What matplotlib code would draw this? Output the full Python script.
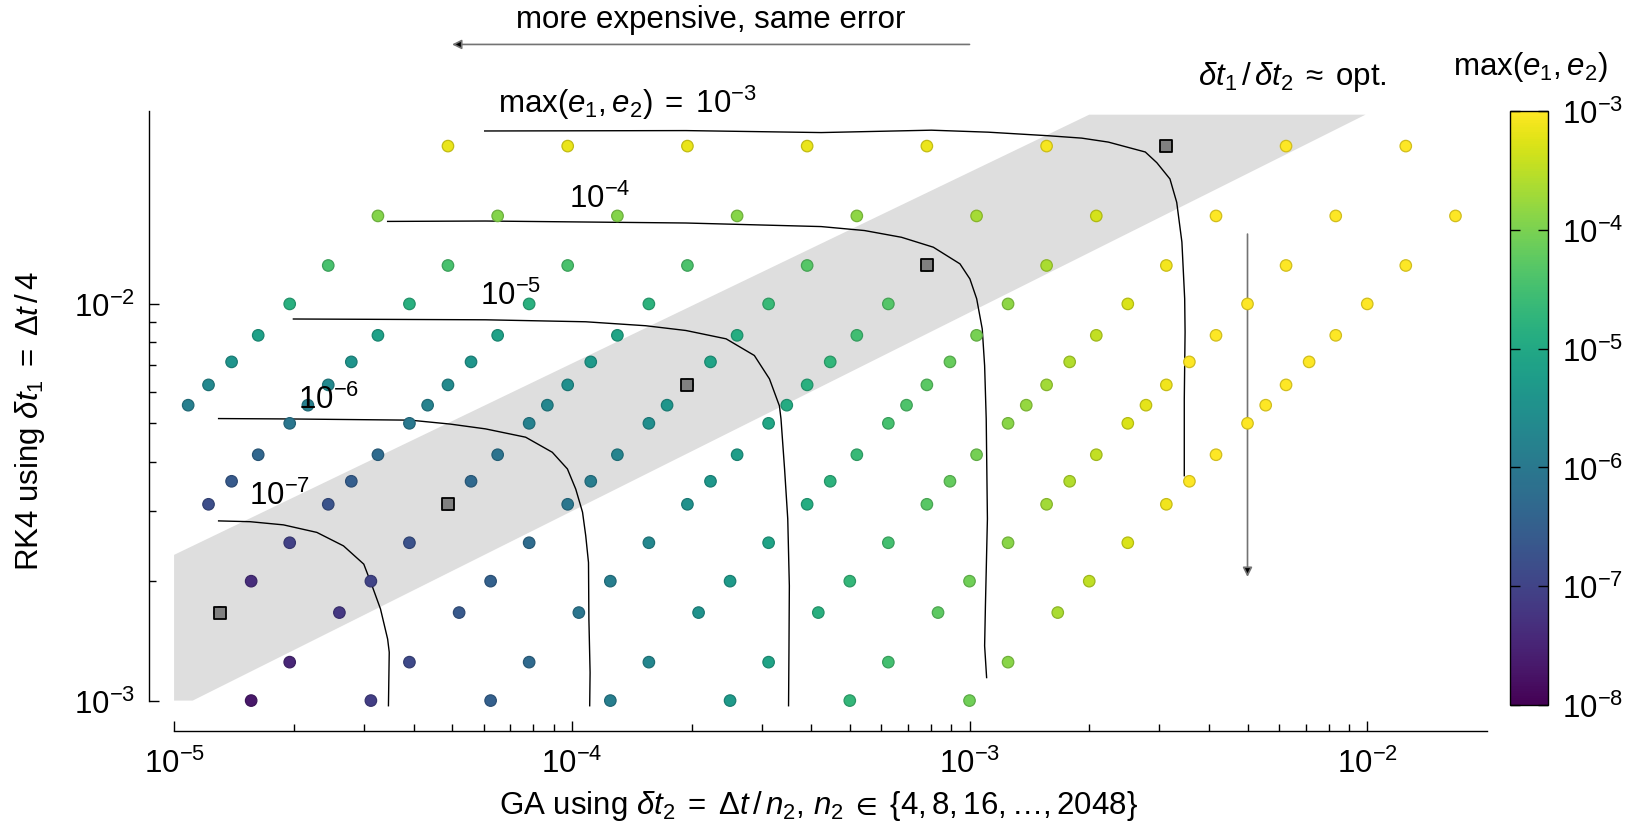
import numpy as np
import matplotlib
matplotlib.use("Agg")
import matplotlib.pyplot as plt
import matplotlib.ticker as mticker
from matplotlib.colors import LogNorm
from matplotlib.cm import ScalarMappable

plt.rcParams['font.family'] = 'Liberation Sans'
plt.rcParams['mathtext.fontset'] = 'custom'
plt.rcParams['mathtext.rm'] = 'Liberation Sans'
plt.rcParams['mathtext.it'] = 'Liberation Sans:italic'
plt.rcParams['mathtext.bf'] = 'Liberation Sans:bold'
plt.rcParams['mathtext.fallback'] = 'stixsans'
plt.rcParams['font.size'] = 22.5

# coarse step Delta t of each row, and GA substeps n2
dt = [0.1, 0.066667, 0.05, 0.04, 0.033333, 0.028571, 0.025, 0.022222, 0.02,
      0.016667, 0.014286, 0.0125, 0.01, 0.008, 0.006667, 0.005, 0.004]
n2 = [4, 8, 16, 32, 64, 128, 256, 512, 1024, 2048]

# log10 max(e1, e2) per row (dt) and column (n2), None = not shown
log_err = [
    [None, -1.87, -2.41, -2.83, -3.06, -3.14, -3.16, -3.17, -3.17, -3.17],
    [-1.64, -2.24, -2.81, -3.32, -3.67, -3.85, -3.90, -3.92, -3.92, -3.92],
    [-1.89, -2.49, -3.08, -3.63, -4.06, -4.32, -4.42, -4.44, -4.45, -4.45],
    [-2.09, -2.69, -3.28, -3.85, -4.33, -4.63, -4.79, -4.83, -4.84, -4.84],
    [-2.24, -2.85, -3.45, -4.02, -4.53, -4.90, -5.08, -5.14, -5.15, -5.16],
    [-2.38, -2.98, -3.58, -4.16, -4.70, -5.10, -5.32, -5.40, -5.42, -5.42],
    [-2.49, -3.10, -3.70, -4.28, -4.83, -5.26, -5.53, -5.62, -5.65, -5.66],
    [-2.60, -3.20, -3.80, -4.39, -4.95, -5.40, -5.70, -5.81, -5.85, -5.86],
    [-2.69, -3.29, -3.89, -4.48, -5.05, -5.54, -5.83, -5.99, -6.03, None],
    [-2.85, -3.45, -4.05, -4.64, -5.22, -5.74, -6.10, -6.28, -6.34, None],
    [-2.98, -3.58, -4.18, -4.78, -5.36, -5.90, -6.31, -6.52, -6.60, None],
    [-3.10, -3.70, -4.30, -4.90, -5.49, -6.04, -6.47, -6.73, -6.82, None],
    [-3.29, -3.89, -4.49, -5.10, -5.69, -6.25, -6.74, -7.04, None, None],
    [-3.48, -4.09, -4.69, -5.29, -5.89, -6.46, -6.99, -7.36, None, None],
    [-3.64, -4.24, -4.85, -5.45, -6.05, -6.63, -7.18, -7.60, None, None],
    [-3.89, -4.49, -5.10, -5.70, -6.30, -6.89, -7.46, None, None, None],
    [-4.09, -4.69, -5.29, -5.89, -6.49, -7.09, -7.67, None, None, None],
]

# "optimal" combinations (grey squares)
opt_dt = [0.1, 0.05, 0.025, 0.0125, 0.006667]
opt_n2 = [32, 64, 128, 256, 512]

# iso-error lines, log10(dt2), log10(dt1)
c3_lx = [-4.219, -3.713, -3.373, -3.096, -2.953, -2.802, -2.718, -2.651, -2.558,
         -2.529, -2.496, -2.479, -2.466, -2.459, -2.458, -2.460, -2.460]
c3_ly = [-1.564, -1.563, -1.568, -1.562, -1.567, -1.576, -1.582, -1.592, -1.617,
         -1.644, -1.685, -1.744, -1.844, -1.987, -2.071, -2.240, -2.433]
c4_lx = [-4.463, -4.217, -3.713, -3.373, -3.264, -3.171, -3.091, -3.024, -2.999,
         -2.982, -2.968, -2.962, -2.958, -2.955, -2.960, -2.962, -2.957]
c4_ly = [-1.792, -1.791, -1.796, -1.805, -1.815, -1.832, -1.857, -1.899, -1.937,
         -1.987, -2.063, -2.156, -2.290, -2.542, -2.761, -2.862, -2.942]
c5_lx = [-4.700, -4.217, -3.965, -3.814, -3.713, -3.612, -3.541, -3.503, -3.478,
         -3.474, -3.465, -3.457, -3.453, -3.454, -3.455]
c5_ly = [-2.038, -2.040, -2.045, -2.055, -2.067, -2.088, -2.130, -2.189, -2.257,
         -2.290, -2.416, -2.542, -2.711, -2.878, -3.013]
c6_lx = [-4.888, -4.708, -4.406, -4.305, -4.217, -4.116, -4.049, -4.011, -3.990,
         -3.973, -3.965, -3.958, -3.957, -3.954, -3.955]
c6_ly = [-2.289, -2.290, -2.293, -2.303, -2.315, -2.336, -2.374, -2.416, -2.467,
         -2.525, -2.584, -2.652, -2.795, -2.929, -3.013]
c7_lx = [-4.888, -4.809, -4.725, -4.641, -4.574, -4.523, -4.502, -4.481, -4.463,
         -4.459, -4.461]
c7_ly = [-2.547, -2.549, -2.557, -2.576, -2.610, -2.656, -2.711, -2.769, -2.845,
         -2.878, -3.013]
contours = [(c3_lx, c3_ly), (c4_lx, c4_ly), (c5_lx, c5_ly), (c6_lx, c6_ly), (c7_lx, c7_ly)]

# contour labels (x, y, text)
lab_x = [1.38e-4, 1.175e-4, 7.0e-5, 2.45e-5, 1.84e-5]
lab_y = [0.0323, 0.0185, 0.01054, 5.75e-3, 3.30e-3]
lab_txt = [r'$\max(e_1, e_2)\;=\;10^{-3}$', r'$10^{-4}$', r'$10^{-5}$', r'$10^{-6}$', r'$10^{-7}$']

# shaded band of near optimal ratio
band_x = [1e-5, 2.0e-3, 9.9e-3, 1.114e-5, 1e-5]
band_y = [2.33e-3, 0.030, 0.030, 1e-3, 1e-3]

fig = plt.figure(figsize=(16.36, 8.28), dpi=100)
ax = fig.add_axes([0.1064, 0.1159, 0.8025, 0.7492])
ax.set_xscale('log')
ax.set_yscale('log')
ax.set_xlim(1e-5, 0.02)
ax.set_ylim(8.38e-4, 0.0307)

norm = LogNorm(1e-8, 1e-3)
cmap = plt.get_cmap('viridis')

ax.fill(band_x, band_y, color='#dedede', lw=0, zorder=0.5)

for lx, ly in contours:
    ax.plot(10 ** np.array(lx), 10 ** np.array(ly), color='k', lw=1.0, zorder=2)

px, py, pc = [], [], []
for i, d in enumerate(dt):
    for j, n in enumerate(n2):
        if log_err[i][j] is None:
            continue
        px.append(d / n)
        py.append(d / 4)
        pc.append(10 ** log_err[i][j])
face = cmap(norm(np.array(pc)))
edge = face.copy()
edge[:, :3] *= 0.82
ax.scatter(px, py, s=68, c=face, edgecolors=edge, linewidths=0.9, zorder=3)

ox = [d / n for d, n in zip(opt_dt, opt_n2)]
oy = [d / 4 for d in opt_dt]
ax.scatter(ox, oy, s=70, marker='s', color='#808080', edgecolors='k', linewidths=1.3, zorder=4)

for x, y, t in zip(lab_x, lab_y, lab_txt):
    ax.text(x, y, t, ha='center', va='center', zorder=5)

ax.annotate('', xy=(5e-5, 0.0451), xytext=(1e-3, 0.0451), annotation_clip=False,
            arrowprops=dict(arrowstyle='-|>', ec='0.45', fc='k', lw=1.2,
                            mutation_scale=14, shrinkA=0, shrinkB=0))
ax.text(2.24e-4, 0.0524, 'more expensive, same error', ha='center', va='center')
ax.annotate('', xy=(5e-3, 2.05e-3), xytext=(5e-3, 0.015), zorder=1,
            arrowprops=dict(arrowstyle='-|>', ec='0.45', fc='k', lw=1.2,
                            mutation_scale=14, shrinkA=0, shrinkB=0))
ax.text(6.47e-3, 0.0376, r'$\delta t_1\,/\,\delta t_2\;\approx\;\mathrm{opt.}$', ha='center', va='center')

# axes styling
for s in ['top', 'right']:
    ax.spines[s].set_visible(False)
ax.spines['left'].set_position(('outward', 18))
ax.spines['left'].set_bounds(1e-3, 0.0307)
ax.spines['bottom'].set_bounds(1e-5, 0.02)
for s in ['left', 'bottom']:
    ax.spines[s].set_linewidth(1.0)

ax.xaxis.set_major_locator(mticker.FixedLocator([1e-5, 1e-4, 1e-3, 1e-2]))
ax.xaxis.set_minor_locator(mticker.FixedLocator(
    [k * 10.0 ** e for e in (-5, -4, -3) for k in range(2, 10)]))
ax.xaxis.set_minor_formatter(mticker.NullFormatter())
ax.yaxis.set_major_locator(mticker.FixedLocator([1e-3, 1e-2]))
ax.yaxis.set_minor_locator(mticker.FixedLocator([k * 1e-3 for k in range(2, 10)]))
ax.yaxis.set_minor_formatter(mticker.NullFormatter())
ax.tick_params(which='both', direction='in', width=1.0)
ax.tick_params(which='major', length=7.5)
ax.tick_params(which='minor', length=5)
ax.tick_params(axis='x', which='major', pad=12)
ax.tick_params(axis='y', which='major', pad=10)

ax.set_xlabel(r'GA using $\delta t_2\;=\;\Delta t\,/\,n_2$, $n_2\;\in\;\{4, 8, 16, \ldots, 2048\}$', va='center')
ax.xaxis.set_label_coords(0.4905, -0.119)
ax.set_ylabel(r'RK4 using $\delta t_1\;=\;\Delta t\,/\,4$', va='center')
ax.yaxis.set_label_coords(-0.110, 0.501)

# colorbar
cax = fig.add_axes([0.923, 0.1473, 0.0232, 0.7174])
sm = ScalarMappable(norm=norm, cmap=cmap)
cb = fig.colorbar(sm, cax=cax)
cb.set_ticks([1e-8, 1e-7, 1e-6, 1e-5, 1e-4, 1e-3])
cax.yaxis.set_minor_locator(mticker.NullLocator())
cax.tick_params(direction='in', left=True, right=True, length=7.5, width=1.0, pad=10)
cb.outline.set_linewidth(1.0)
fig.text(0.9352, 0.919, r'$\max(e_1, e_2)$', ha='center', va='center')

fig.savefig('out.png', dpi=100)
